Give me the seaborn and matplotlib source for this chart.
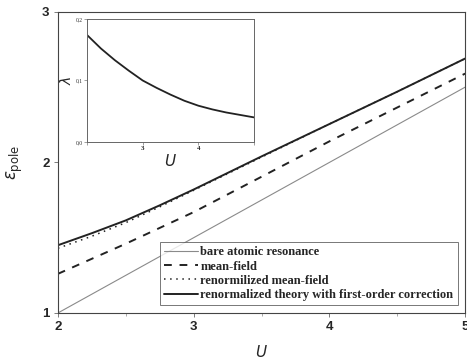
"""
Pole energy vs U with inset of lambda(U).
"""

import numpy as np
import pandas as pd
import matplotlib.pyplot as plt
import seaborn as sns
from matplotlib.ticker import MultipleLocator

# main panel data
u_main = [2.0, 2.25, 2.5, 2.75, 3.0, 3.5, 4.0, 4.5, 5.0]
bare = [1.0, 1.125, 1.25, 1.375, 1.5, 1.75, 2.0, 2.25, 2.5]
mean_field = [1.26, 1.36, 1.46, 1.565, 1.67, 1.905, 2.14, 2.365, 2.59]
renorm_mf = [1.43, 1.51, 1.6, 1.705, 1.815, 2.035, 2.255, 2.47, 2.69]
first_order = [1.45, 1.53, 1.615, 1.715, 1.82, 2.04, 2.255, 2.47, 2.69]

labels = ['bare atomic resonance', 'mean-field', 'renormilized mean-field',
          'renormalized theory with first-order correction']

# inset data
u_inset = [2.0, 2.25, 2.5, 2.75, 3.0, 3.25, 3.5, 3.75, 4.0, 4.25, 4.5, 4.75, 5.0]
lam = [0.174, 0.152, 0.133, 0.116, 0.100, 0.088, 0.077, 0.067, 0.059,
       0.053, 0.048, 0.044, 0.040]

sns.set_style("white")
plt.rcParams['font.family'] = ['Liberation Serif', 'DejaVu Serif']

df = pd.DataFrame({
    'U': u_main * 4,
    'E': bare + mean_field + renorm_mf + first_order,
    'curve': sum([[lab] * len(u_main) for lab in labels], []),
})

fig = plt.figure(figsize=(4.67, 3.6), dpi=100)
ax = fig.add_axes([0.124, 0.1306, 0.872, 0.8364])

styles = {
    labels[0]: dict(color='#8a8a8a', lw=0.8, ls='-'),
    labels[1]: dict(color='#222222', lw=1.4, ls=(0, (4, 4))),
    labels[2]: dict(color='#222222', lw=1.1, ls=(0, (1, 3))),
    labels[3]: dict(color='#222222', lw=1.4, ls='-'),
}
for lab in labels:
    sub = df[df['curve'] == lab]
    sns.lineplot(data=sub, x='U', y='E', ax=ax, label=lab, **styles[lab])

ax.set_xlim(2, 5)
ax.set_ylim(1, 3)
ax.set_xticks([2, 3, 4, 5])
ax.set_yticks([1, 2, 3])
ax.xaxis.set_minor_locator(MultipleLocator(0.5))
ax.tick_params(axis='both', which='major', direction='out', length=3,
               width=0.6, color='#666666', labelsize=9.5, pad=3, bottom=True, left=True)
ax.tick_params(axis='x', which='minor', direction='out', length=2,
               width=0.5, color='#888888', bottom=True)
for lbl in ax.get_xticklabels() + ax.get_yticklabels():
    lbl.set_family(['Liberation Sans', 'DejaVu Sans'])
    lbl.set_fontweight('bold')
for sp in ax.spines.values():
    sp.set_color('#444444')
    sp.set_linewidth(0.8)

ax.set_xlabel('$U$', fontsize=11, labelpad=8)
ax.set_ylabel(r'$\epsilon_{\mathrm{pole}}$', fontsize=12, labelpad=12)

leg = ax.legend(loc='lower right', fontsize=9, frameon=True, fancybox=False,
                handlelength=2.7, borderpad=0.35, labelspacing=0.18,
                handletextpad=0.2, borderaxespad=0.6)
leg.get_frame().set_edgecolor('#555555')
leg.get_frame().set_linewidth(0.7)
for t in leg.get_texts():
    t.set_fontweight('bold')

# inset
ins = fig.add_axes([0.1863, 0.6056, 0.3576, 0.3417])
sns.lineplot(x=u_inset, y=lam, ax=ins, color='#222222', lw=1.3)
ins.set_xlim(2, 5)
ins.set_ylim(0, 0.2)
ins.set_xticks([2, 3, 4, 5])
ins.set_xticklabels(['', '3', '4', ''])
ins.set_yticks([0, 0.1, 0.2])
ins.set_yticklabels(['0,0', '0,1', '0,2'])
ins.tick_params(axis='both', direction='out', length=2, width=0.5,
                color='#777777', labelsize=4, pad=1, bottom=True, left=True)
for lbl in ins.get_xticklabels():
    lbl.set_fontsize(5)
    lbl.set_fontweight('bold')
for sp in ins.spines.values():
    sp.set_color('#666666')
    sp.set_linewidth(0.7)
ins.set_xlabel('$U$', fontsize=11, labelpad=1)
ins.set_ylabel(r'$\lambda$', fontsize=10, labelpad=1)

fig.savefig('out.png', dpi=100)
